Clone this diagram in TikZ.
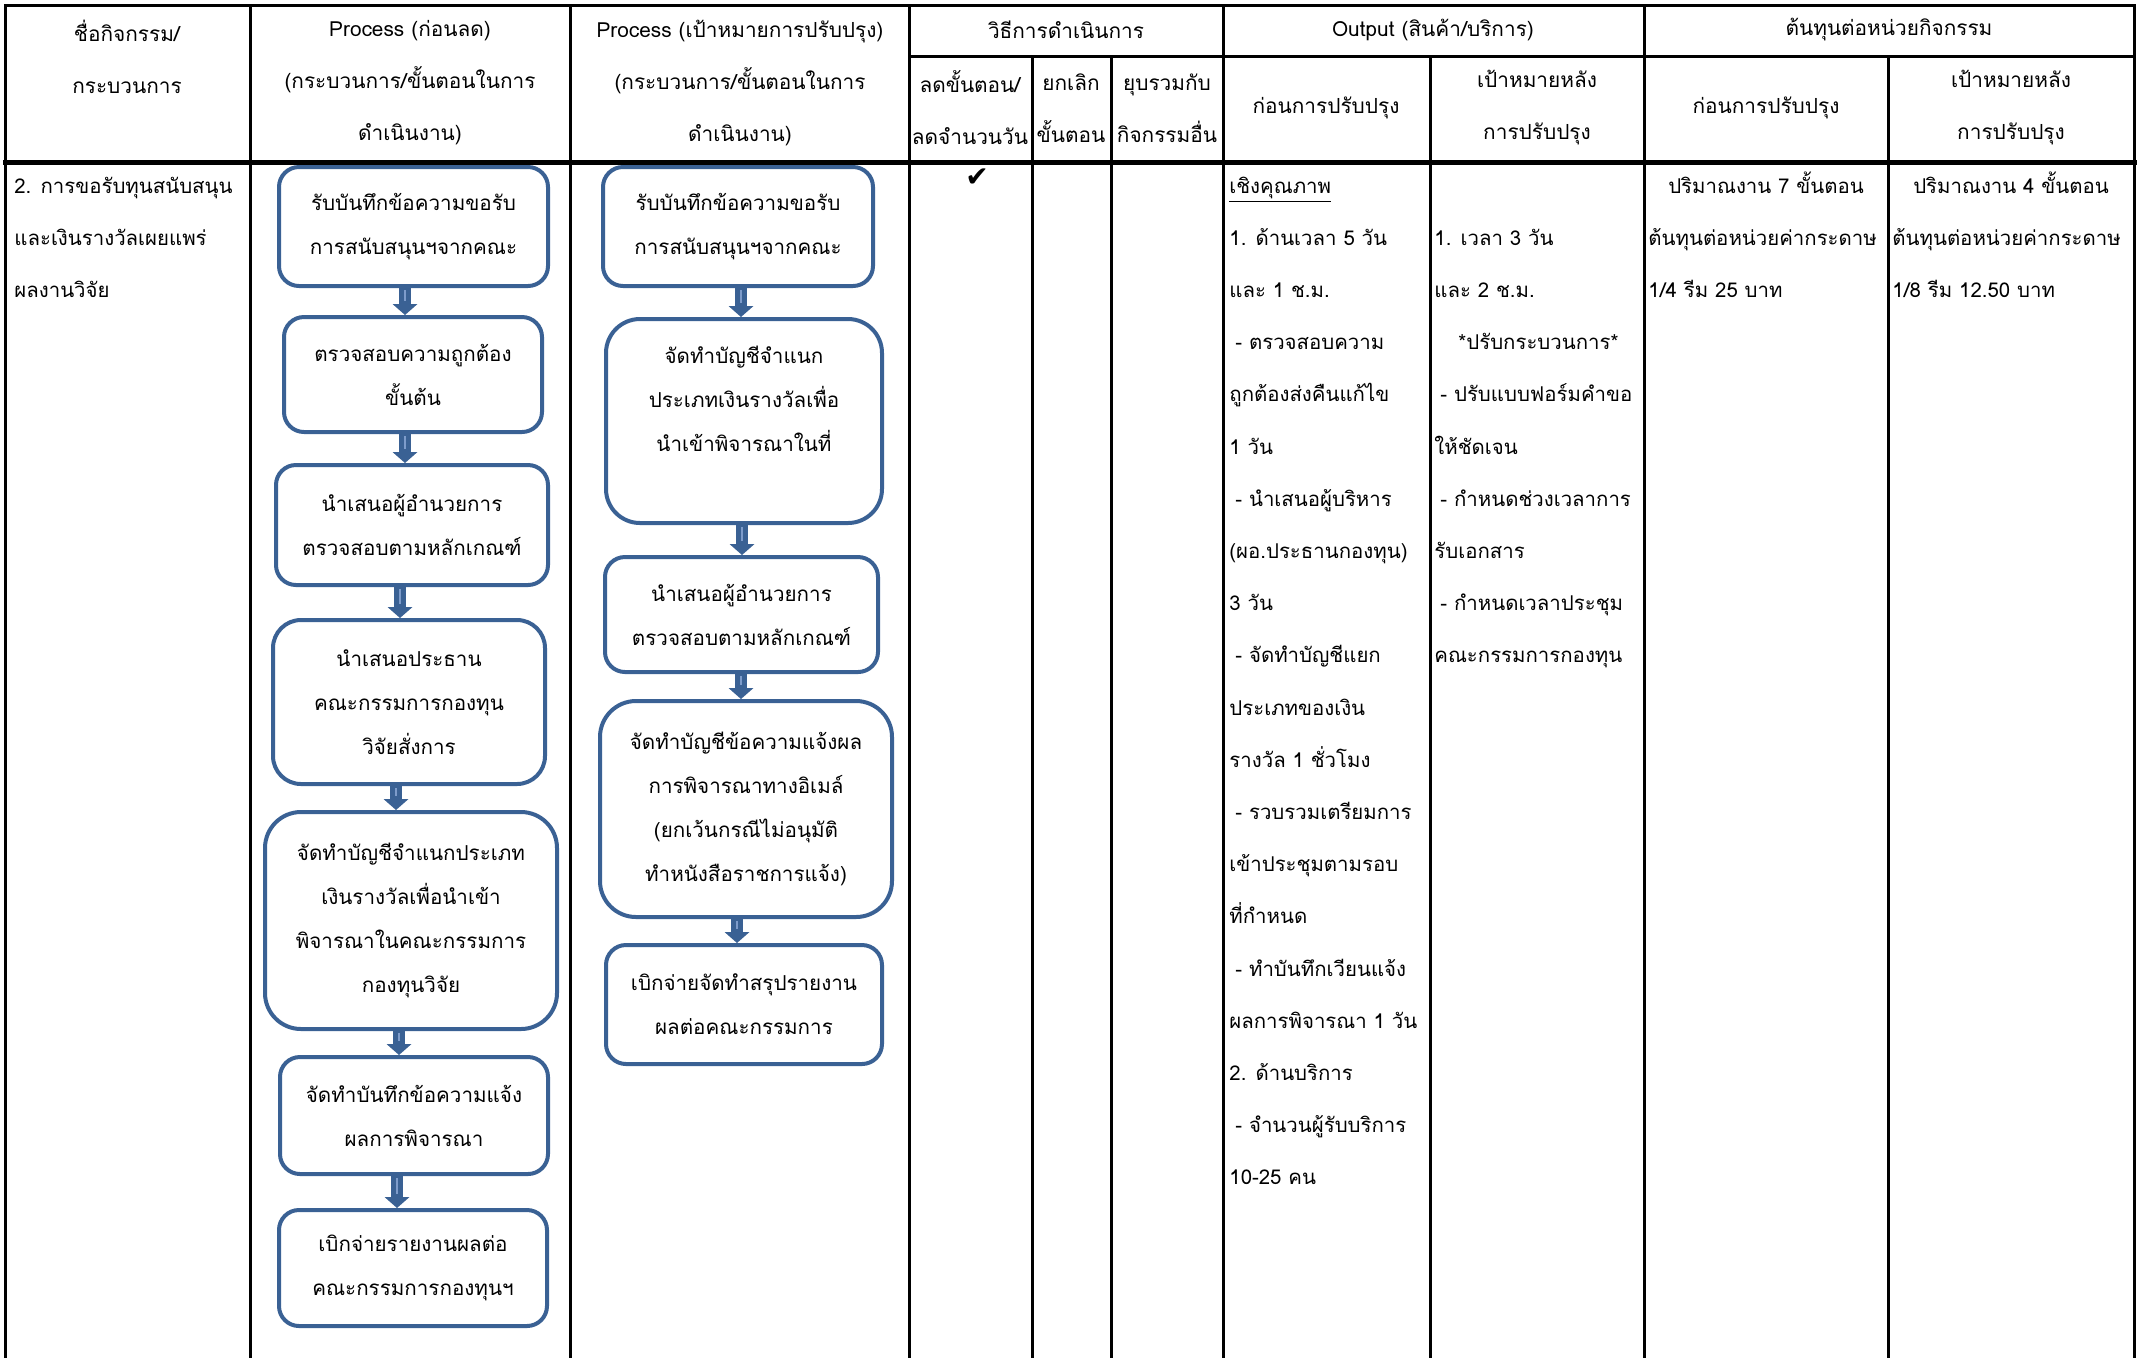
\documentclass[tikz,border=0pt]{standalone}
\usepackage{fontspec}
\setmainfont{Loma}[Script=Thai]
\newfontfamily\symfont{DejaVu Sans}
\usetikzlibrary{arrows.meta}

\definecolor{boxblue}{HTML}{3A6194}
\definecolor{stripeblue}{HTML}{7E9CCB}

\tikzset{
  gridline/.style={line width=1.5pt, line cap=rect},
  headline/.style={line width=2.5pt, line cap=rect},
  headtext/.style={font=\fontsize{10.4}{26}\selectfont, align=center, inner sep=0pt},
  celltext/.style={font=\fontsize{10.2}{26}\selectfont, anchor=base west, inner sep=0pt},
  flowbox/.style={draw=boxblue, line width=2pt, rounded corners=10pt, align=center,
    font=\fontsize{10.3}{22}\selectfont, inner sep=0pt},
  boxw/.style={minimum width=#1*0.5pt},
  boxh/.style={minimum height=#1*0.5pt},
  flowarrow/.style={draw=boxblue, line width=6pt,
    -{Triangle[width=12.5pt,length=5.5pt,line width=0pt]},
    postaction={draw=stripeblue, line width=1pt, -, shorten >=7pt, shorten <=1pt}}
}

\begin{document}
\begin{tikzpicture}[x=0.5pt, y=-0.5pt]
  \useasboundingbox (0,0) rectangle (2138,1357);

  % table rules
  \draw[gridline] (5,5) -- (2134,5);
  \draw[gridline] (909,56) -- (2134,56);
  \draw[headline] (5,162) -- (2134,162);
  \foreach \x in {5,250,570,909,1223,1644,2134}
    \draw[gridline] (\x,5) -- (\x,1357);
  \foreach \x in {1032,1111,1430,1888}
    \draw[gridline] (\x,56) -- (\x,1357);

  % header
  \node[headtext] (hname) at (127,57) {ชื่อกิจกรรม/\\กระบวนการ};
  \node[headtext] (hold) at (410,83) {Process (ก่อนลด)\\(กระบวนการ/ขั้นตอนในการ\\ดำเนินงาน)};
  \node[headtext] (hnew) at (740,83) {Process (เป้าหมายการปรับปรุง)\\(กระบวนการ/ขั้นตอนในการ\\ดำเนินงาน)};
  \node[headtext] (hway) at (1066,30) {วิธีการดำเนินการ};
  \node[headtext] (hcut) at (970,108) {ลดขั้นตอน/\\ลดจำนวนวัน};
  \node[headtext] (hdrop) at (1071,108) {ยกเลิก\\ขั้นตอน};
  \node[headtext] (hmerge) at (1167,108) {ยุบรวมกับ\\กิจกรรมอื่น};
  \node[headtext] (hout) at (1433,30) {Output (สินค้า/บริการ)};
  \node[headtext] (houtb) at (1326,108) {ก่อนการปรับปรุง};
  \node[headtext] (houta) at (1537,108) {เป้าหมายหลัง\\การปรับปรุง};
  \node[headtext] (hcost) at (1889,30) {ต้นทุนต่อหน่วยกิจกรรม};
  \node[headtext] (hcostb) at (1766,108) {ก่อนการปรับปรุง};
  \node[headtext] (hcosta) at (2011,108) {เป้าหมายหลัง\\การปรับปรุง};

  % activity name
  \foreach \txt [count=\i from 0] in {2. การขอรับทุนสนับสนุน, และเงินรางวัลเผยแพร่, ผลงานวิจัย}
    \node[celltext] (act\i) at (14,{193+52.2*\i}) {\txt};

  % process before
  \node[flowbox, boxw=269, boxh=119] (old1) at (413.5,226.5) {รับบันทึกข้อความขอรับ\\การสนับสนุนฯจากคณะ};
  \node[flowbox, boxw=258, boxh=115] (old2) at (413,374.5) {ตรวจสอบความถูกต้อง\\ขั้นต้น};
  \node[flowbox, boxw=272, boxh=120] (old3) at (412,525) {นำเสนอผู้อำนวยการ\\ตรวจสอบตามหลักเกณฑ์};
  \node[flowbox, boxw=272, boxh=164, rounded corners=14pt] (old4) at (409,702) {นำเสนอประธาน\\คณะกรรมการกองทุน\\วิจัยสั่งการ};
  \node[flowbox, boxw=292, boxh=217, rounded corners=18pt] (old5) at (411,920.5) {จัดทำบัญชีจำแนกประเภท\\เงินรางวัลเพื่อนำเข้า\\พิจารณาในคณะกรรมการ\\กองทุนวิจัย};
  \node[flowbox, boxw=268, boxh=117] (old6) at (414,1115.5) {จัดทำบันทึกข้อความแจ้ง\\ผลการพิจารณา};
  \node[flowbox, boxw=268, boxh=116] (old7) at (413,1268) {เบิกจ่ายรายงานผลต่อ\\คณะกรรมการกองทุนฯ};
  \foreach \a/\b/\x in {1/2/405, 2/3/405, 3/4/400, 4/5/396, 5/6/399, 6/7/397}
    \draw[flowarrow] (old\a.south -| \x,0) -- (old\b.north -| \x,0);

  % process target
  \node[flowbox, boxw=270, boxh=119] (new1) at (738,226.5) {รับบันทึกข้อความขอรับ\\การสนับสนุนฯจากคณะ};
  \node[flowbox, boxw=276, boxh=204, rounded corners=17pt] (new2) at (744,421) {จัดทำบัญชีจำแนก\\ประเภทเงินรางวัลเพื่อ\\นำเข้าพิจารณาในที่\\\mbox{}};
  \node[flowbox, boxw=273, boxh=115] (new3) at (741.5,614.5) {นำเสนอผู้อำนวยการ\\ตรวจสอบตามหลักเกณฑ์};
  \node[flowbox, boxw=292, boxh=216, rounded corners=18pt] (new4) at (746,809) {จัดทำบัญชีข้อความแจ้งผล\\การพิจารณาทางอิเมล์\\(ยกเว้นกรณีไม่อนุมัติ\\ทำหนังสือราชการแจ้ง)};
  \node[flowbox, boxw=276, boxh=119] (new5) at (744,1004.5) {เบิกจ่ายจัดทำสรุปรายงาน\\ผลต่อคณะกรรมการ};
  \foreach \a/\b/\x in {1/2/741, 2/3/742, 3/4/741, 4/5/737}
    \draw[flowarrow] (new\a.south -| \x,0) -- (new\b.north -| \x,0);

  % method
  \node[font=\symfont\fontsize{14}{14}\selectfont, inner sep=0pt] (tick) at (977,178) {✔};

  % output before
  \foreach \txt [count=\i from 0] in {\underline{เชิงคุณภาพ}, 1. ด้านเวลา 5 วัน, และ 1 ช.ม.,
      \hspace{3pt}- ตรวจสอบความ, ถูกต้องส่งคืนแก้ไข, 1 วัน, \hspace{3pt}- นำเสนอผู้บริหาร,
      (ผอ.ประธานกองทุน), 3 วัน, \hspace{3pt}- จัดทำบัญชีแยก, ประเภทของเงิน, รางวัล 1 ชั่วโมง,
      \hspace{3pt}- รวบรวมเตรียมการ, เข้าประชุมตามรอบ, ที่กำหนด, \hspace{3pt}- ทำบันทึกเวียนแจ้ง,
      ผลการพิจารณา 1 วัน, 2. ด้านบริการ, \hspace{3pt}- จำนวนผู้รับบริการ, 10-25 คน}
    \node[celltext] (outb\i) at (1229,{193+52.2*\i}) {\txt};

  % output target
  \foreach \txt [count=\i from 1] in {1. เวลา 3 วัน, และ 2 ช.ม., \hspace{12pt}*ปรับกระบวนการ*,
      \hspace{3pt}- ปรับแบบฟอร์มคำขอ, ให้ชัดเจน, \hspace{3pt}- กำหนดช่วงเวลาการ, รับเอกสาร,
      \hspace{3pt}- กำหนดเวลาประชุม, คณะกรรมการกองทุน}
    \node[celltext] (outa\i) at (1434,{193+52.2*\i}) {\txt};

  % cost per unit
  \node[celltext, anchor=base] (costb0) at (1766,193) {ปริมาณงาน 7 ขั้นตอน};
  \node[celltext] (costb1) at (1648,245.2) {ต้นทุนต่อหน่วยค่ากระดาษ};
  \node[celltext] (costb2) at (1648,297.4) {1/4 รีม 25 บาท};
  \node[celltext, anchor=base] (costa0) at (2011,193) {ปริมาณงาน 4 ขั้นตอน};
  \node[celltext] (costa1) at (1892,245.2) {ต้นทุนต่อหน่วยค่ากระดาษ};
  \node[celltext] (costa2) at (1892,297.4) {1/8 รีม 12.50 บาท};
\end{tikzpicture}
\end{document}
